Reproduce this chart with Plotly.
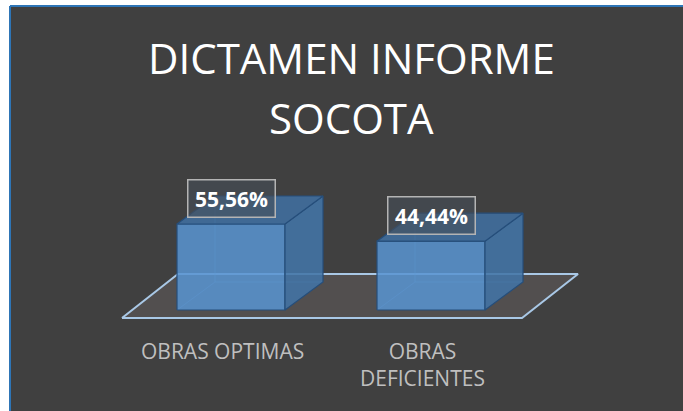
import plotly.graph_objects as go

# ---- data ----
categories = ["OBRAS OPTIMAS", "OBRAS<br>DEFICIENTES"]
values = [55.56, 44.44]
value_labels = ["55,56%", "44,44%"]
title_lines = ["DICTAMEN INFORME", "SOCOTA"]

# ---- geometry (axis units) ----
HALF_W = 0.27          # half bar width (category units)
DX, DY = 0.19, 18.09   # bar depth offset
FLOOR_FRONT, FLOOR_BACK = -5.17, 23.26
FLOOR_X0, FLOOR_X1, FLOOR_DX = -0.545, 1.455, 0.28

FRONT = "rgba(88,148,208,0.86)"
SIDE = "rgba(66,116,166,0.88)"
TOP = "rgba(64,112,162,0.86)"
EDGE = "rgba(38,78,122,1)"
HIDDEN = "rgba(110,160,210,0.45)"

fig = go.Figure()

# floor
fig.add_trace(go.Scatter(
    x=[FLOOR_X0, FLOOR_X1, FLOOR_X1 + FLOOR_DX, FLOOR_X0 + FLOOR_DX, FLOOR_X0],
    y=[FLOOR_FRONT, FLOOR_FRONT, FLOOR_BACK, FLOOR_BACK, FLOOR_FRONT],
    fill="toself", fillcolor="#524f4f", mode="lines",
    line=dict(color="#a9c8e6", width=2), hoverinfo="skip", showlegend=False))

for i, v in enumerate(values):
    c = i
    l, r = c - HALF_W, c + HALF_W
    # hidden back edges
    fig.add_trace(go.Scatter(
        x=[l, l + DX, l + DX, None, l + DX, r + DX],
        y=[0, DY, v + DY, None, DY, DY],
        mode="lines", line=dict(color=HIDDEN, width=1),
        hoverinfo="skip", showlegend=False))
    # front face
    fig.add_trace(go.Scatter(
        x=[l, r, r, l, l], y=[0, 0, v, v, 0],
        fill="toself", fillcolor=FRONT, mode="lines",
        line=dict(color=EDGE, width=1.2), hoverinfo="skip", showlegend=False))
    # right side
    fig.add_trace(go.Scatter(
        x=[r, r + DX, r + DX, r, r], y=[0, DY, v + DY, v, 0],
        fill="toself", fillcolor=SIDE, mode="lines",
        line=dict(color=EDGE, width=1.2), hoverinfo="skip", showlegend=False))
    # top
    fig.add_trace(go.Scatter(
        x=[l, r, r + DX, l + DX, l], y=[v, v, v + DY, v + DY, v],
        fill="toself", fillcolor=TOP, mode="lines",
        line=dict(color=EDGE, width=1.2), hoverinfo="skip", showlegend=False))

annotations = []
for i, (v, t) in enumerate(zip(values, value_labels)):
    annotations.append(dict(
        x=i, y=v, xref="x", yref="y", text="<b>%s</b>" % t, showarrow=False,
        yshift=26, xshift=0,
        font=dict(family="Open Sans", size=21, color="white"),
        bgcolor="rgba(70,78,88,0.6)", bordercolor="#b4b4b4", borderwidth=1.5,
        borderpad=3, width=80, height=30))

for i, cat in enumerate(categories):
    annotations.append(dict(
        x=i - 0.045, y=-16.3, xref="x", yref="y", text=cat, showarrow=False,
        yanchor="top", font=dict(family="Open Sans", size=21, color="#bfbfbf")))

for line, py in zip(title_lines, [0.873, 0.7247]):
    annotations.append(dict(
        x=0.508, y=py, xref="paper", yref="paper", text=line, showarrow=False,
        yanchor="middle", font=dict(family="Open Sans", size=42, color="white")))

fig.update_layout(
    width=683, height=411,
    margin=dict(l=10, r=0, t=6, b=0),
    paper_bgcolor="white", plot_bgcolor="#404040",
    xaxis=dict(range=[-1.105, 2.26], visible=False, fixedrange=True),
    yaxis=dict(range=[-65.25, 196.4], visible=False, fixedrange=True),
    annotations=annotations,
    shapes=[dict(type="line", xref="paper", yref="paper", x0=0, y0=0, x1=0, y1=1,
                 line=dict(color="#2e75b6", width=2)),
            dict(type="line", xref="paper", yref="paper", x0=0, y0=1, x1=1, y1=1,
                 line=dict(color="#2e75b6", width=2))],
)

css_js = ("var s=document.createElement('style');"
          "s.textContent='html,body{margin:0;padding:0;overflow:hidden;}';"
          "document.head.appendChild(s);")
fig.write_html("out.html", config={"displayModeBar": False}, post_script=css_js)
